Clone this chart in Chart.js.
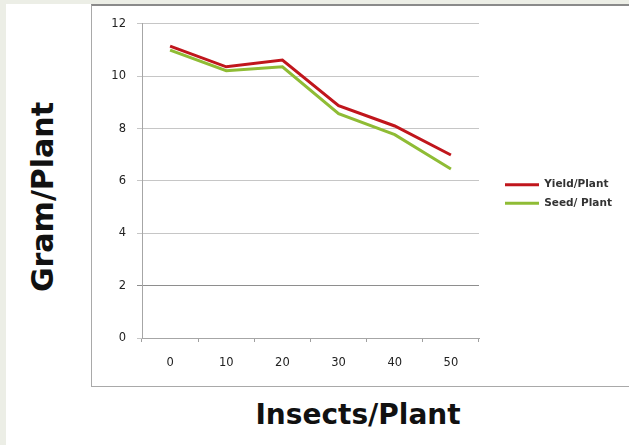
<!DOCTYPE html>
<html>
<head>
<meta charset="utf-8">
<script src="https://cdn.jsdelivr.net/npm/chart.js@4/dist/chart.umd.min.js"></script>
<style>
  html, body { margin: 0; padding: 0; }
  body { width: 629px; height: 445px; background: #eceee6; position: relative; overflow: hidden; }
  #panel { position: absolute; left: 6px; top: 4px; right: 0; bottom: 0; background: #ffffff; }
  #frame { position: absolute; left: 91px; top: 4px; width: 600px; height: 380px;
           border-left: 1px solid #a9a9a9; border-bottom: 1px solid #a9a9a9; border-top: 2px solid #8a8a8a; }
  #plot { position: absolute; left: 92px; top: 6px; width: 537px; height: 379px; }
  .axis-title { position: absolute; font-family: "DejaVu Sans", sans-serif; font-weight: bold; color: #111; white-space: nowrap; }
  #ytitle { left: 42px; top: 197px; font-size: 30px; transform: translate(-50%, -50%) rotate(-90deg); }
  #xtitle { left: 358px; top: 414px; font-size: 28px; transform: translate(-50%, -50%); }
</style>
</head>
<body>
<div id="panel"></div>
<div id="frame"></div>
<div id="plot"><canvas id="chart"></canvas></div>
<div id="ytitle" class="axis-title">Gram/Plant</div>
<div id="xtitle" class="axis-title">Insects/Plant</div>
<script>
// Insects per plant (x) against grams per plant (y)
const insects = ['0', '10', '20', '30', '40', '50'];
const yieldPerPlant = [11.15, 10.36, 10.62, 8.88, 8.1, 6.99];
const seedPerPlant = [11.0, 10.21, 10.36, 8.57, 7.77, 6.46];
const yTicks = [0, 2, 4, 6, 8, 10, 12];

// Fixed-width legend column on the right, nudged to sit beside the plot
const LEGEND_WIDTH = 150;
const LEGEND_DX = 18;
const LEGEND_DY = -9;
const legendSlot = {
  id: 'legendSlot',
  beforeLayout(chart) {
    const lg = chart.legend;
    if (lg && !lg._fixedWidth) {
      const fit = lg.fit;
      lg.fit = function () { fit.call(this); this.width = LEGEND_WIDTH; };
      lg._fixedWidth = true;
    }
  },
  afterLayout(chart) {
    const lg = chart.legend;
    if (lg) {
      lg.left += LEGEND_DX; lg.right += LEGEND_DX;
      lg.top += LEGEND_DY; lg.bottom += LEGEND_DY;
    }
  }
};

const tickFont = { family: '"DejaVu Sans", sans-serif', size: 11.5 };

new Chart(document.getElementById('chart'), {
  type: 'line',
  data: {
    labels: insects,
    datasets: [
      { label: 'Yield/Plant', data: yieldPerPlant, borderColor: '#c0161c', backgroundColor: '#c0161c',
        borderWidth: 3, pointRadius: 0, tension: 0 },
      { label: 'Seed/ Plant', data: seedPerPlant, borderColor: '#8fbc35', backgroundColor: '#8fbc35',
        borderWidth: 3, pointRadius: 0, tension: 0 }
    ]
  },
  options: {
    responsive: true,
    maintainAspectRatio: false,
    animation: false,
    layout: { padding: { top: 15, left: 0, right: 0, bottom: 0 } },
    plugins: {
      tooltip: { enabled: false },
      legend: {
        position: 'right',
        align: 'center',
        labels: {
          boxWidth: 34,
          boxHeight: 3,
          padding: 8,
          color: '#333333',
          font: { family: '"DejaVu Sans", sans-serif', size: 10.5, weight: 'bold' },
          generateLabels(chart) {
            const items = Chart.defaults.plugins.legend.labels.generateLabels(chart);
            items.forEach(it => { it.fillStyle = it.strokeStyle; it.lineWidth = 0; });
            return items;
          }
        }
      }
    },
    scales: {
      x: {
        type: 'category',
        offset: true,
        grid: { offset: true, drawOnChartArea: false, drawTicks: true, tickLength: 4, color: '#a0a0a0' },
        border: { display: true, color: '#a6a6a6', width: 1 },
        ticks: { color: '#222222', font: tickFont, padding: 14, maxRotation: 0 },
        afterFit(scale) { scale.height = 47; }
      },
      y: {
        min: 0,
        max: 12,
        afterBuildTicks(scale) { scale.ticks = yTicks.map(v => ({ value: v })); },
        grid: {
          color: ctx => (ctx.tick && ctx.tick.value === 2 ? '#8e8e8e' : '#c6c6c6'),
          drawTicks: true,
          tickLength: 5
        },
        border: { display: true, color: '#a6a6a6', width: 1 },
        ticks: { color: '#222222', font: tickFont, padding: 11 },
        afterFit(scale) { scale.width = 50; }
      }
    }
  },
  plugins: [legendSlot]
});
</script>
</body>
</html>
